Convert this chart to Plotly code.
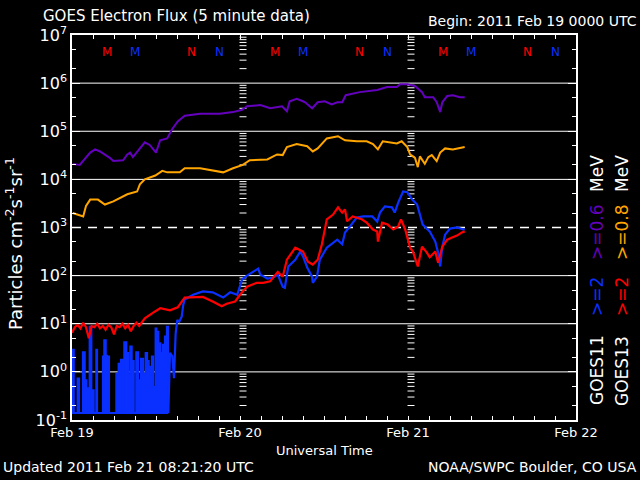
import plotly.graph_objects as go

# ---------------- data (hours since 2011 Feb 19 00:00 UTC) ----------------
purple_hours = [0.1, 1.1, 2.6, 3.3, 4.0, 5.4, 5.9, 7.3, 7.9, 8.3, 8.7, 9.4, 10.4, 11.1, 12.0, 12.6,
                13.6, 14.3, 15.1, 16.1, 18.3, 21.1, 23.0, 24.3, 25.0, 26.9, 28.3, 30.0, 30.7, 31.1,
                32.1, 33.0, 33.3, 34.3, 35.1, 36.1, 37.1, 37.9, 38.6, 39.1, 41.1, 43.6, 45.0, 46.4,
                46.9, 47.9, 49.0, 50.0, 50.4, 51.6, 52.1, 52.6, 52.9, 53.6, 54.4, 55.4, 56.1]
purple_flux = [2.1e4, 2.0e4, 3.6e4, 4.2e4, 3.8e4, 2.8e4, 2.4e4, 2.5e4, 3.3e4, 3.6e4, 2.9e4, 3.8e4,
               5.9e4, 5.2e4, 3.6e4, 6.5e4, 7.1e4, 1.1e5, 1.6e5, 2.1e5, 2.3e5, 2.3e5, 2.5e5, 2.8e5,
               3.3e5, 3.5e5, 3.0e5, 3.3e5, 2.6e5, 4.2e5, 4.7e5, 4.2e5, 4.0e5, 3.0e5, 4.0e5, 4.2e5,
               3.6e5, 4.0e5, 4.0e5, 5.6e5, 6.5e5, 7.2e5, 8.3e5, 8.3e5, 9.5e5, 9.5e5, 8.7e5, 6.5e5,
               5.1e5, 5.1e5, 4.0e5, 2.5e5, 4.0e5, 5.4e5, 5.6e5, 5.1e5, 5.1e5]

orange_hours = [0.1, 0.9, 1.6, 2.0, 2.6, 3.7, 4.7, 5.9, 6.9, 7.9, 9.3, 9.7, 10.4, 11.1, 11.9, 12.9,
                13.6, 15.4, 16.1, 18.3, 20.1, 21.6, 23.0, 24.4, 25.4, 27.9, 29.3, 30.1, 30.7, 32.1,
                33.6, 34.4, 35.1, 36.4, 38.0, 39.0, 40.7, 42.1, 43.0, 43.7, 44.4, 46.4, 47.1, 47.9,
                48.3, 49.0, 49.4, 49.7, 50.4, 50.9, 51.4, 52.1, 52.6, 53.3, 54.4, 56.1]
orange_flux = [2.0e3, 1.8e3, 1.7e3, 2.8e3, 3.8e3, 3.8e3, 3.0e3, 3.5e3, 4.2e3, 4.9e3, 5.6e3, 7.9e3,
               1.0e4, 1.1e4, 1.2e4, 1.5e4, 1.4e4, 1.4e4, 1.7e4, 1.7e4, 1.5e4, 1.4e4, 1.7e4, 2.0e4,
               2.5e4, 2.6e4, 3.3e4, 3.2e4, 4.7e4, 5.4e4, 4.9e4, 3.8e4, 4.4e4, 7.1e4, 7.9e4, 6.5e4,
               6.2e4, 6.2e4, 5.4e4, 4.2e4, 6.2e4, 5.6e4, 6.2e4, 4.7e4, 3.3e4, 2.8e4, 1.8e4, 3.0e4,
               2.1e4, 2.9e4, 3.2e4, 2.4e4, 3.6e4, 4.4e4, 4.2e4, 4.7e4]

red_hours = [0.0, 0.4, 0.8, 1.2, 1.6, 2.0, 2.4, 2.8, 3.2, 3.6, 4.0, 4.4, 4.8, 5.2, 5.6, 6.0, 6.4,
             6.8, 7.2, 7.6, 8.0, 8.4, 8.8, 9.2, 9.6, 10.0, 10.4, 11.6, 12.6, 14.0, 15.1, 16.1,
             17.3, 18.7, 20.1, 21.4, 22.1, 23.3, 24.0, 25.0, 26.4, 27.3, 28.3, 29.4, 30.1, 30.7,
             31.9, 33.0, 33.7, 34.4, 35.1, 35.7, 36.4, 37.3, 38.0, 38.6, 39.0, 39.3, 40.1, 41.4,
             42.1, 43.0, 43.6, 43.7, 44.3, 45.1, 45.9, 46.6, 47.0, 47.6, 48.3, 48.7, 49.4, 50.0,
             50.7, 51.1, 51.9, 52.3, 52.9, 53.6, 54.3, 55.0, 55.7, 56.1]
red_flux = [6.5, 8.5, 9.5, 8.0, 10.5, 8.5, 5.0, 9.0, 8.5, 10.0, 8.0, 9.0, 7.5, 9.5, 8.5, 6.0, 9.0,
            8.5, 10.0, 8.0, 9.5, 7.0, 9.0, 10.5, 9.0, 11.0, 13, 17, 21, 19, 22, 35,
            36, 36, 29, 23, 26, 29, 40, 59, 71, 71, 76, 120, 95, 214,
            380, 316, 195, 170, 214, 450, 1480, 1860, 2630, 2040, 2370, 1350, 1700, 1480,
            1260, 910, 830, 510, 1260, 1150, 910, 1050, 1480, 910, 380, 316, 155, 400,
            300, 240, 316, 186, 400, 560, 620, 680, 790, 830]

# GOES11 >=2 MeV: early noisy part drawn as 5-minute steps down to the floor
blue_spiky_hours = [0.0, 0.1, 0.29, 0.76, 1.05, 1.52, 1.86, 2.1, 2.3, 2.48, 2.81, 3.14, 3.43, 3.62,
                    4.38, 4.57, 4.86, 5.05, 5.33, 6.29, 6.62, 6.95, 7.24, 7.43, 7.81, 8.05, 8.29,
                    8.57, 8.86, 9.14, 9.48, 9.81, 10.19, 10.48, 10.76, 11.0, 11.14, 11.38, 11.62,
                    11.9, 12.1, 12.38, 12.67, 12.95, 13.24, 13.52, 13.76]
blue_spiky_flux = [0.14, 2.9, 0.14, 0.74, 0.14, 2.6, 0.68, 0.46, 0.14, 8.8, 0.42, 0.14, 2.9, 0.14,
                   2.1, 4.6, 2.2, 2.1, 0.14, 0.93, 1.5, 1.8, 0.14, 4.2, 2.5, 0.87, 3.4,
                   1.7, 0.14, 2.6, 0.68, 1.9, 0.93, 2.5, 1.7, 0.14, 1.3, 2.1, 0.49,
                   8.1, 6.9, 4.0, 2.5, 3.7, 5.5, 8.8, 0.14]
blue_floor = 0.14
blue_hours = [13.76, 14.0, 14.33, 14.57, 14.81, 15.05, 15.33, 15.67, 15.9, 16.1, 17.3, 18.7, 20.1,
              21.6, 22.6, 23.6, 24.3, 25.0, 26.6, 26.9, 27.9, 28.7, 29.4, 30.1, 30.4, 30.9, 31.9,
              32.6, 33.0, 33.6, 34.3, 34.4, 35.0, 35.4, 36.4, 37.3, 37.9, 38.6, 39.0, 39.7, 40.7,
              41.6, 42.9, 43.6, 44.0, 44.7, 45.7, 46.1, 46.6, 47.3, 47.9, 48.6, 49.3, 49.7, 50.1,
              51.1, 51.9, 52.3, 52.6, 52.9, 53.3, 54.0, 55.0, 55.9, 56.1]
blue_flux = [0.14, 2.5, 2.1, 0.74, 6.4, 12, 11, 14, 25, 32, 40, 47, 45,
             35, 45, 40, 83, 100, 140, 105, 87, 91, 105, 59, 56, 155, 214,
             316, 250, 148, 95, 71, 95, 214, 380, 490, 560, 450, 790, 1050, 1620,
             1700, 1700, 1330, 2040, 2750, 2630, 2040, 3300, 5600, 5400, 3800, 3000, 1860, 1150,
             830, 510, 300, 155, 400, 710, 950, 1000, 910, 910]

# local midnight (M) / noon (N) times for each satellite
m_goes13 = [5, 29, 53]
m_goes11 = [9, 33, 57]
n_goes13 = [17, 41, 65]
n_goes11 = [21, 45, 69]

day_hours = [0, 24, 48, 72]
day_labels = ["Feb 19", "Feb 20", "Feb 21", "Feb 22"]
decades = [-1, 0, 1, 2, 3, 4, 5, 6, 7]
solid_grid = [1e0, 1e1, 1e2, 1e4, 1e5, 1e6]
dashed_grid = [1e3]

# ---------------- style ----------------
PURPLE = "#6400be"
ORANGE = "#ffa500"
RED = "#ff0000"
BLUE = "#0a30ff"
FONT = "DejaVu Sans"
L, R, T, B = 72, 64, 35, 60
W, H = 640, 480
PW, PH = W - L - R, H - T - B


def px(x):
    return (x - L) / PW


def py(y):
    return (H - B - y) / PH


fig = go.Figure()

# grid lines
for g in solid_grid:
    fig.add_trace(go.Scatter(x=[0, 72], y=[g, g], mode="lines",
                             line=dict(color="white", width=1), hoverinfo="skip"))
for g in dashed_grid:
    fig.add_trace(go.Scatter(x=[0, 72], y=[g, g], mode="lines",
                             line=dict(color="white", width=1.3, dash="9px,7px"), hoverinfo="skip"))

# day divider tick columns
minor_vals = [m * 10.0 ** d for d in decades[:-1] for m in range(2, 10)]
hours_per_px = 72 / PW
for d in day_hours[1:3]:
    fig.add_trace(go.Scatter(x=[d + 3 * hours_per_px] * len(minor_vals), y=minor_vals,
                             mode="markers", hoverinfo="skip",
                             marker=dict(symbol="line-ew", size=5,
                                         line=dict(color="white", width=1))))

# data
fig.add_trace(go.Scatter(x=[blue_spiky_hours[0], blue_spiky_hours[-1]], y=[blue_floor, blue_floor],
                         mode="lines", line=dict(color=BLUE, width=2), hoverinfo="skip"))
fig.add_trace(go.Scatter(x=blue_spiky_hours, y=blue_spiky_flux, mode="lines", line_shape="hv",
                         fill="tonexty", fillcolor=BLUE, line=dict(color=BLUE, width=1.5)))
fig.add_trace(go.Scatter(x=blue_hours, y=blue_flux, mode="lines",
                         line=dict(color=BLUE, width=2.2)))
fig.add_trace(go.Scatter(x=red_hours, y=red_flux, mode="lines",
                         line=dict(color=RED, width=2.2)))
fig.add_trace(go.Scatter(x=orange_hours, y=orange_flux, mode="lines",
                         line=dict(color=ORANGE, width=2)))
fig.add_trace(go.Scatter(x=purple_hours, y=purple_flux, mode="lines",
                         line=dict(color=PURPLE, width=2)))

ann = []
# M / N markers
for hrs, txt, col in [(m_goes13, "M", RED), (m_goes11, "M", BLUE),
                      (n_goes13, "N", RED), (n_goes11, "N", BLUE)]:
    for h in hrs:
        ann.append(dict(x=h, y=py(52), xref="x", yref="paper", text=txt, showarrow=False,
                        font=dict(family=FONT, size=12, color=col), xanchor="center", yanchor="middle"))

white = dict(family=FONT, color="white")
ann += [
    dict(x=px(41), y=py(16), text="GOES Electron Flux (5 minute data)", xanchor="left",
         font=dict(size=15, **white)),
    dict(x=px(639), y=py(21), text="Begin: 2011 Feb 19 0000 UTC", xanchor="right",
         font=dict(size=14, **white)),
    dict(x=px(324), y=py(450), text="Universal Time", xanchor="center",
         font=dict(size=13, **white)),
    dict(x=px(1), y=py(467), text="Updated 2011 Feb 21 08:21:20 UTC", xanchor="left",
         font=dict(size=14, **white)),
    dict(x=px(639), y=py(467), text="NOAA/SWPC Boulder, CO USA", xanchor="right",
         font=dict(size=14, **white)),
    dict(x=px(14), y=py(244), text="Particles cm<sup>-2</sup>s<sup>-1</sup>sr<sup>-1</sup>",
         textangle=-90, xanchor="center", font=dict(size=18, **white)),
]
# rotated legend
for xc, parts in [(597, [("GOES11", "white", 370), (">=2", BLUE, 297), (">=0.6", PURPLE, 232), ("MeV", "white", 174)]),
                  (622, [("GOES13", "white", 371), (">=2", RED, 297), (">=0.8", ORANGE, 232), ("MeV", "white", 174)])]:
    for txt, col, yc in parts:
        ann.append(dict(x=px(xc), y=py(yc), text=txt.replace(">", "&gt;"), textangle=-90,
                        xanchor="center", yanchor="middle",
                        font=dict(family=FONT, size=17, color=col)))
for a in ann:
    a.setdefault("xref", "paper")
    a.setdefault("yref", "paper")
    a.setdefault("showarrow", False)
    a.setdefault("yanchor", "middle")

x_tickvals = list(range(0, 73, 3))
x_ticktext = [day_labels[day_hours.index(v)] if v in day_hours else "" for v in x_tickvals]

fig.update_layout(
    width=W, height=H, margin=dict(l=L, r=R, t=T, b=B),
    paper_bgcolor="black", plot_bgcolor="black", showlegend=False,
    annotations=ann,
    xaxis=dict(range=[0, 72], tickvals=x_tickvals, ticktext=x_ticktext, ticks="inside",
               ticklen=4, tickcolor="white", showline=True, linecolor="white", linewidth=1.5,
               mirror="allticks", showgrid=False, zeroline=False,
               tickfont=dict(family=FONT, size=13, color="white")),
    yaxis=dict(type="log", range=[-1, 7], tickvals=[10.0 ** d for d in decades],
               ticktext=["10<sup>%d</sup>" % d for d in decades], ticks="inside", ticklen=8,
               tickcolor="white", showline=True, linecolor="white", linewidth=1.5,
               mirror="allticks", showgrid=False, zeroline=False,
               minor=dict(ticks="inside", ticklen=4, tickcolor="white", showgrid=False),
               tickfont=dict(family=FONT, size=16, color="white")),
)

fig.write_html("out.html")
